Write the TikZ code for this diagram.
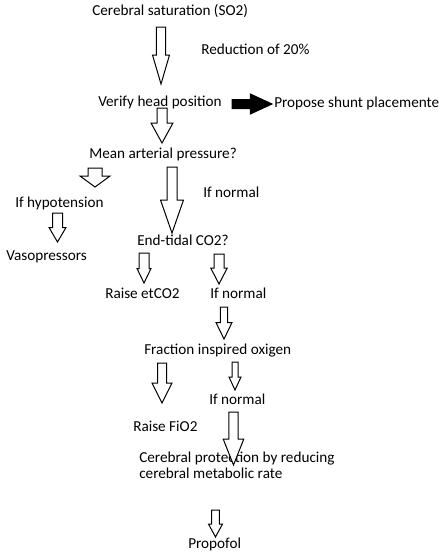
\documentclass[tikz,border=0pt]{standalone}
\usepackage{fontspec}
\setmainfont{Carlito}
\usetikzlibrary{calc}

\newcommand{\pxunit}{0.75pt}
% block arrow: [style] start, tip, shaft half width, head half width, head length
\newcommand{\blockarrow}[6][]{%
  \coordinate (hb) at ($(#3)!#6*\pxunit!(#2)$);
  \draw[arrowbody,#1] ($(#2)!#4*\pxunit!90:(#3)$) -- ($(hb)!#4*\pxunit!90:(#3)$)
    -- ($(hb)!#5*\pxunit!90:(#3)$) -- (#3) -- ($(hb)!#5*\pxunit!-90:(#3)$)
    -- ($(hb)!#4*\pxunit!-90:(#3)$) -- ($(#2)!#4*\pxunit!-90:(#3)$) -- cycle;}

\tikzset{
  label/.style={anchor=base west, inner sep=0pt, align=left,
    font=\fontsize{11.4}{12}\selectfont},
  arrowbody/.style={draw, line width=0.75pt, fill=white, line join=miter},
  solid arrow/.style={fill=black}
}

\begin{document}
\begin{tikzpicture}[x=0.75pt, y=0.75pt]
  \useasboundingbox (0,0) rectangle (444,-553);
  % Texts
  \node[label] (sat) at (92,-16) {Cerebral saturation (SO2)};
  \node[label] (red) at (201,-54) {Reduction of 20\%};
  \node[label] (verify) at (98,-106) {Verify head position};
  \node[label] (shunt) at (274,-107) {Propose shunt placemente};
  \node[label] (map) at (89,-158) {Mean arterial pressure?};
  \node[label] (hypo) at (15,-207) {If hypotension};
  \node[label] (vaso) at (6,-260) {Vasopressors};
  \node[label] (normA) at (203,-197) {If normal};
  \node[label] (etco) at (137,-245) {End-tidal CO2?};
  \node[label] (raiseco) at (105,-298) {Raise etCO2};
  \node[label] (normB) at (210,-298) {If normal};
  \node[label] (fio) at (144,-354) {Fraction inspired oxigen};
  \node[label] (normC) at (209,-404) {If normal};
  \node[label] (raisefio) at (133,-431) {Raise FiO2};
  \node[label] (protect) at (139,-478) {Cerebral protection by reducing\\cerebral metabolic rate};
  \node[label] (propofol) at (188,-548) {Propofol};
  % Arrow ends
  \coordinate (sat-v) at (161,-27);     \coordinate (verify-n) at (161,-84);
  \coordinate (verify-e) at (232,-104); \coordinate (shunt-w) at (272,-104);
  \coordinate (verify-s) at (162,-108); \coordinate (map-n) at (162,-143);
  \coordinate (map-sw) at (95,-168);    \coordinate (hypo-n) at (95,-187);
  \coordinate (hypo-s) at (57.5,-213);  \coordinate (vaso-n) at (57.5,-242);
  \coordinate (map-s) at (172,-167);    \coordinate (etco-n) at (172,-233);
  \coordinate (etco-sw) at (144,-253);  \coordinate (raiseco-n) at (144,-283);
  \coordinate (etco-se) at (219,-254);  \coordinate (normB-n) at (219,-284);
  \coordinate (normB-s) at (224,-307);  \coordinate (fio-n) at (224,-339);
  \coordinate (fio-sw) at (162,-363);   \coordinate (raisefio-n) at (162,-403);
  \coordinate (fio-se) at (235,-362);   \coordinate (normC-n) at (235,-390);
  \coordinate (normC-s) at (233.5,-412); \coordinate (protect-n) at (233.5,-465);
  \coordinate (protect-s) at (215.5,-510); \coordinate (propofol-n) at (215.5,-537);
  % Arrows
  \blockarrow{sat-v}{verify-n}{4.7}{8.5}{29}
  \blockarrow[solid arrow]{verify-e}{shunt-w}{4.5}{10}{21.7}
  \blockarrow{verify-s}{map-n}{5}{11}{20}
  \blockarrow{map-sw}{hypo-n}{7}{15}{11}
  \blockarrow{hypo-s}{vaso-n}{5}{8.5}{14.5}
  \blockarrow{map-s}{etco-n}{5}{11.5}{33}
  \blockarrow{etco-sw}{raiseco-n}{5}{7}{14.5}
  \blockarrow{etco-se}{normB-n}{5}{8.3}{16}
  \blockarrow{normB-s}{fio-n}{3.7}{8}{16.5}
  \blockarrow{fio-sw}{raisefio-n}{4.5}{10}{20}
  \blockarrow{fio-se}{normC-n}{3}{6}{13}
  \blockarrow{normC-s}{protect-n}{4.7}{10.3}{26}
  \blockarrow{protect-s}{propofol-n}{3.8}{7}{13}
\end{tikzpicture}
\end{document}
